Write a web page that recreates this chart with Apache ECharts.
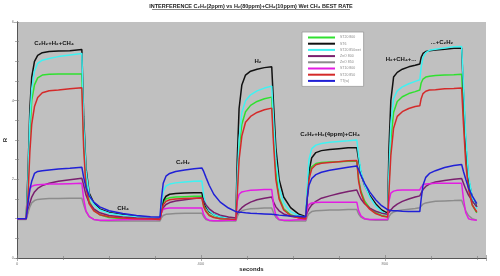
<!DOCTYPE html>
<html>
<head>
<meta charset="utf-8">
<script src="https://cdn.jsdelivr.net/npm/echarts@6/dist/echarts.min.js"></script>
<style>
  html, body { margin: 0; padding: 0; background: #fff; }
  #chart { width: 500px; height: 276px; }
</style>
</head>
<body>
<div id="chart"></div>
<script>
// time axis (seconds), shared by every sensor trace
const times = [0, 20, 24, 28, 32, 38, 45, 55, 70, 90, 115, 141,
  145, 150, 157, 167, 180, 200, 230, 260, 290, 311,
  314, 318, 324, 332, 345, 365, 385, 402,
  406, 411, 418, 428, 442, 460, 476,
  479, 483, 489, 497, 508, 522, 538, 554,
  558, 563, 570, 580, 595, 612, 628,
  631, 635, 641, 650, 662, 680, 700, 720, 739,
  743, 748, 756, 767, 780, 793, 806,
  809, 813, 819, 827, 838, 852, 866, 876,
  879, 883, 889, 897, 910, 930, 950, 967,
  971, 976, 982, 990, 1000];

// R values
const green = [1.0, 1.0, 1.9, 3.2, 4.0, 4.4, 4.58, 4.65, 4.67, 4.68, 4.68, 4.68,
  3.0, 1.9, 1.45, 1.22, 1.1, 1.03, 1.0, 0.99, 0.99, 0.99,
  1.2, 1.42, 1.5, 1.53, 1.55, 1.56, 1.57, 1.57,
  1.35, 1.2, 1.1, 1.04, 1.0, 0.99, 0.99,
  1.8, 2.8, 3.4, 3.72, 3.88, 3.98, 4.05, 4.09,
  3.1, 2.2, 1.55, 1.25, 1.1, 1.03, 1.0,
  1.6, 2.1, 2.32, 2.4, 2.43, 2.44, 2.45, 2.46, 2.46,
  2.0, 1.7, 1.45, 1.27, 1.15, 1.08, 1.05,
  1.9, 3.0, 3.7, 3.98, 4.1, 4.18, 4.23, 4.27,
  4.45, 4.55, 4.6, 4.62, 4.64, 4.65, 4.66, 4.67,
  3.7, 2.6, 1.8, 1.35, 1.15];

const black = [1.0, 1.0, 2.2, 3.8, 4.6, 5.0, 5.15, 5.22, 5.25, 5.26, 5.27, 5.3,
  3.6, 2.3, 1.65, 1.4, 1.25, 1.16, 1.1, 1.06, 1.03, 1.01,
  1.2, 1.45, 1.57, 1.62, 1.64, 1.65, 1.66, 1.66,
  1.45, 1.3, 1.18, 1.1, 1.05, 1.02, 1.0,
  2.5, 3.8, 4.4, 4.65, 4.75, 4.8, 4.84, 4.86,
  3.9, 2.8, 2.0, 1.55, 1.28, 1.12, 1.05,
  1.5, 2.2, 2.55, 2.68, 2.73, 2.76, 2.78, 2.8, 2.8,
  2.5, 2.15, 1.85, 1.6, 1.38, 1.22, 1.14,
  2.8, 4.0, 4.6, 4.72, 4.8, 4.86, 4.9, 4.93,
  5.1, 5.2, 5.25, 5.27, 5.29, 5.31, 5.33, 5.34,
  4.2, 2.9, 2.0, 1.55, 1.3];

const cyan = [1.0, 1.0, 2.0, 3.5, 4.3, 4.75, 4.95, 5.03, 5.07, 5.12, 5.16, 5.2,
  3.4, 2.2, 1.6, 1.36, 1.22, 1.14, 1.08, 1.05, 1.03, 1.01,
  1.35, 1.7, 1.83, 1.88, 1.91, 1.93, 1.95, 1.96,
  1.6, 1.35, 1.2, 1.1, 1.05, 1.02, 1.0,
  2.0, 3.0, 3.7, 4.0, 4.15, 4.25, 4.32, 4.37,
  3.5, 2.5, 1.8, 1.4, 1.18, 1.08, 1.03,
  1.8, 2.5, 2.78, 2.87, 2.91, 2.94, 2.96, 2.98, 3.0,
  2.6, 2.2, 1.85, 1.55, 1.32, 1.18, 1.1,
  2.2, 3.4, 4.05, 4.25, 4.35, 4.43, 4.49, 4.53,
  4.85, 5.1, 5.22, 5.28, 5.31, 5.34, 5.37, 5.38,
  4.4, 3.1, 2.1, 1.55, 1.25];

const purple = [1.0, 1.0, 1.2, 1.4, 1.55, 1.68, 1.77, 1.84, 1.9, 1.95, 1.99, 2.03,
  1.85, 1.6, 1.4, 1.25, 1.15, 1.08, 1.04, 1.02, 1.01, 1.0,
  1.15, 1.28, 1.36, 1.41, 1.45, 1.48, 1.51, 1.53,
  1.45, 1.35, 1.25, 1.16, 1.09, 1.04, 1.02,
  1.12, 1.2, 1.28, 1.35, 1.42, 1.48, 1.52, 1.55,
  1.42, 1.3, 1.2, 1.12, 1.06, 1.03, 1.02,
  1.15, 1.25, 1.35, 1.44, 1.52, 1.58, 1.64, 1.69, 1.73,
  1.62, 1.5, 1.38, 1.27, 1.19, 1.14, 1.11,
  1.15, 1.22, 1.3, 1.37, 1.44, 1.5, 1.55, 1.58,
  1.65, 1.74, 1.82, 1.88, 1.93, 1.97, 2.0, 2.02,
  1.9, 1.75, 1.6, 1.45, 1.3];

const gray = [0.98, 0.98, 1.15, 1.3, 1.4, 1.46, 1.49, 1.5, 1.51, 1.51, 1.52, 1.52,
  1.35, 1.18, 1.05, 0.98, 0.95, 0.94, 0.94, 0.94, 0.94, 0.94,
  1.02, 1.08, 1.11, 1.12, 1.13, 1.14, 1.14, 1.14,
  1.05, 0.98, 0.95, 0.94, 0.94, 0.94, 0.94,
  1.05, 1.15, 1.2, 1.23, 1.25, 1.26, 1.27, 1.27,
  1.15, 1.03, 0.97, 0.95, 0.94, 0.94, 0.94,
  1.05, 1.13, 1.18, 1.2, 1.21, 1.22, 1.22, 1.23, 1.23,
  1.12, 1.04, 0.99, 0.97, 0.96, 0.96, 0.96,
  1.05, 1.12, 1.17, 1.2, 1.22, 1.24, 1.26, 1.28,
  1.32, 1.37, 1.4, 1.42, 1.44, 1.45, 1.46, 1.47,
  1.35, 1.2, 1.08, 1.0, 0.96];

const magenta = [1.0, 1.0, 1.5, 1.75, 1.82, 1.85, 1.86, 1.87, 1.88, 1.88, 1.89, 1.9,
  1.5, 1.2, 1.05, 0.98, 0.96, 0.96, 0.97, 0.98, 0.98, 0.98,
  1.15, 1.24, 1.26, 1.27, 1.27, 1.27, 1.27, 1.27,
  1.1, 1.0, 0.96, 0.95, 0.95, 0.96, 0.96,
  1.45, 1.62, 1.68, 1.7, 1.72, 1.73, 1.74, 1.74,
  1.35, 1.08, 0.98, 0.96, 0.96, 0.97, 0.97,
  1.25, 1.36, 1.4, 1.41, 1.42, 1.42, 1.42, 1.42, 1.42,
  1.2, 1.07, 1.0, 0.98, 0.98, 0.98, 0.98,
  1.45, 1.65, 1.7, 1.72, 1.73, 1.73, 1.73, 1.73,
  1.8, 1.86, 1.88, 1.89, 1.9, 1.9, 1.9, 1.9,
  1.5, 1.15, 1.0, 0.97, 0.96];

const red = [1.0, 1.0, 1.6, 2.7, 3.4, 3.85, 4.08, 4.2, 4.25, 4.27, 4.3, 4.33,
  2.8, 1.8, 1.38, 1.2, 1.1, 1.05, 1.02, 1.0, 0.99, 0.98,
  1.15, 1.35, 1.44, 1.48, 1.5, 1.51, 1.52, 1.52,
  1.3, 1.18, 1.08, 1.03, 1.0, 0.99, 0.98,
  1.6, 2.5, 3.1, 3.45, 3.6, 3.7, 3.77, 3.81,
  2.9, 2.0, 1.5, 1.22, 1.08, 1.02, 0.99,
  1.5, 2.0, 2.27, 2.37, 2.41, 2.43, 2.45, 2.47, 2.48,
  1.95, 1.65, 1.4, 1.24, 1.13, 1.07, 1.04,
  1.7, 2.6, 3.3, 3.6, 3.72, 3.8, 3.85, 3.87,
  4.05, 4.18, 4.24, 4.27, 4.28, 4.3, 4.31, 4.32,
  3.4, 2.4, 1.75, 1.35, 1.17];

const blue = [1.0, 1.0, 1.4, 1.75, 1.95, 2.15, 2.2, 2.22, 2.24, 2.26, 2.28, 2.31,
  2.05, 1.8, 1.58, 1.42, 1.3, 1.2, 1.13, 1.08, 1.05, 1.04,
  1.5, 1.9, 2.08, 2.15, 2.2, 2.24, 2.27, 2.29,
  2.2, 2.05, 1.85, 1.62, 1.42, 1.27, 1.18,
  1.17, 1.16, 1.16, 1.15, 1.14, 1.13, 1.12, 1.11,
  1.1, 1.1, 1.09, 1.08, 1.07, 1.06, 1.05,
  1.5, 1.85, 2.02, 2.12, 2.18, 2.23, 2.27, 2.31, 2.34,
  2.25, 2.1, 1.9, 1.68, 1.48, 1.33, 1.23,
  1.22, 1.21, 1.2, 1.2, 1.19, 1.18, 1.18, 1.18,
  1.5, 1.85, 2.05, 2.15, 2.22, 2.3, 2.35, 2.38,
  2.2, 2.0, 1.78, 1.58, 1.38];

const sensorNames = ['ST20 800', 'ST6', 'ST20 850wet', 'ZnO 800', 'ZnO 850', 'ST10 800', 'ST20 850', 'TT(w)'];
const sensorValues = [green, black, cyan, purple, gray, magenta, red, blue];
const sensorColors = ['#2fe02f', '#111111', '#3ff2f2', '#7a1f6e', '#8c8c8c', '#e21de2', '#d42a2a', '#2020d6'];

// gas labels
const gasLabels = [
  { text: 'C₂H₂+H₂+CH₄', x: 54, y: 43 },
  { text: 'CH₄', x: 123, y: 208 },
  { text: 'C₂H₂', x: 183, y: 162 },
  { text: 'H₂', x: 258, y: 61 },
  { text: 'C₂H₂+H₂(4ppm)+CH₄', x: 330, y: 134 },
  { text: 'H₂+CH₄+...', x: 401, y: 59 },
  { text: '...+C₂H₂', x: 442, y: 42 }
];

const chart = echarts.init(document.getElementById('chart'));

const axisLineStyle = { color: '#555', width: 1 };
const tickStyle = { color: '#777', width: 0.6 };

function xAxisCfg(pos, showLabel) {
  return {
    type: 'value', position: pos, min: 0, max: 1020, interval: 400,
    axisLine: { show: true, lineStyle: axisLineStyle },
    axisTick: { show: true, length: 3, lineStyle: tickStyle },
    minorTick: { show: true, splitNumber: 4, length: 2, lineStyle: tickStyle },
    axisLabel: {
      show: showLabel, fontSize: 4, color: '#777', margin: 4,
      formatter: v => (v % 400 === 0 ? String(v) : '')
    },
    splitLine: { show: false }
  };
}

const option = {
  animation: false,
  backgroundColor: '#ffffff',
  grid: {
    left: 17, right: 14, top: 22, bottom: 18,
    outerBoundsMode: 'none',
    containLabel: false,
    show: true, backgroundColor: '#c0c0c0', borderWidth: 0
  },
  legend: {
    orient: 'vertical',
    left: 302, top: 32,
    data: sensorNames,
    icon: 'rect',
    itemWidth: 27, itemHeight: 2,
    itemGap: 1.2,
    padding: [3, 3, 3, 6],
    backgroundColor: '#ffffff',
    borderColor: '#999',
    borderWidth: 0.8,
    textStyle: { fontSize: 3.5, lineHeight: 5, color: '#888', fontFamily: 'Liberation Sans' }
  },
  xAxis: [
    Object.assign(xAxisCfg('bottom', true), {
      name: 'seconds', nameLocation: 'middle', nameGap: 8,
      nameMoveOverlap: false,
      nameTextStyle: { fontSize: 6, fontWeight: 'bold', color: '#222', fontFamily: 'Liberation Sans' }
    }),
    xAxisCfg('top', false)
  ],
  yAxis: [
    {
      type: 'value', min: 0, max: 6, interval: 2,
      name: 'R', nameLocation: 'middle', nameGap: 9, nameRotate: 90,
      nameMoveOverlap: false,
      nameTextStyle: { fontSize: 6, fontWeight: 'bold', color: '#222', fontFamily: 'Liberation Sans' },
      axisLine: { show: true, lineStyle: axisLineStyle },
      axisTick: { show: true, length: 3, lineStyle: tickStyle },
      minorTick: { show: true, splitNumber: 4, length: 2, lineStyle: tickStyle },
      axisLabel: { fontSize: 4, color: '#777', margin: 3 },
      splitLine: { show: false }
    },
    {
      type: 'value', position: 'right', min: 0, max: 6, interval: 0.5,
      axisLine: { show: true, lineStyle: axisLineStyle },
      axisTick: { show: true, length: 2, lineStyle: tickStyle },
      axisLabel: { show: false },
      splitLine: { show: false }
    }
  ],
  series: sensorNames.map((name, i) => ({
    name: name,
    type: 'line',
    showSymbol: false,
    symbol: 'none',
    color: sensorColors[i],
    lineStyle: { width: 1.5, color: sensorColors[i] },
    data: times.map((t, j) => [t, sensorValues[i][j]])
  })),
  graphic: [
    {
      type: 'text', x: 251, y: 6,
      style: {
        text: 'INTERFERENCE C₂H₂(2ppm) vs H₂(80ppm)+CH₄(10ppm) Wet CH₄ BEST RATE',
        font: 'bold 5.5px "Liberation Sans"', fill: '#222',
        align: 'center', verticalAlign: 'middle'
      }
    },
    {
      type: 'line', shape: { x1: 152, y1: 9.5, x2: 350, y2: 9.5 },
      style: { stroke: '#333', lineWidth: 0.6 }
    }
  ].concat(gasLabels.map(g => ({
    type: 'text', x: g.x, y: g.y, z: 10,
    style: {
      text: g.text, font: 'bold 6px "Liberation Sans"', fill: '#111',
      align: 'center', verticalAlign: 'middle'
    }
  })))
};

chart.setOption(option);
window.addEventListener('resize', () => chart.resize());
</script>
</body>
</html>
